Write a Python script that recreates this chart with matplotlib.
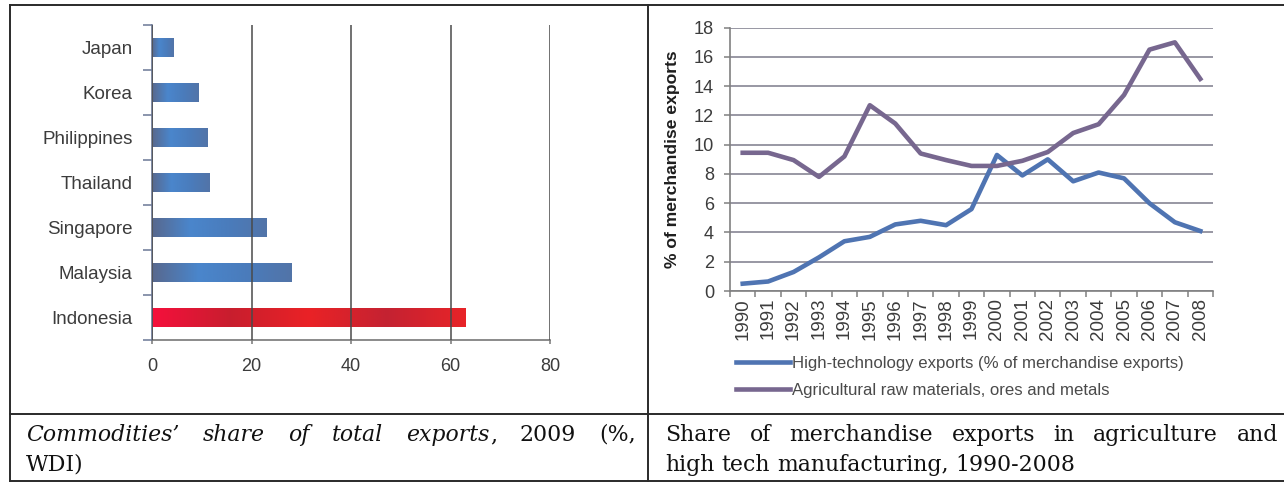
import matplotlib
matplotlib.use("Agg")
import matplotlib.pyplot as plt
import numpy as np
from matplotlib import font_manager as fm
from matplotlib.lines import Line2D
from matplotlib.colors import LinearSegmentedColormap

# ---------------- data ----------------
countries = ["Japan", "Korea", "Philippines", "Thailand", "Singapore", "Malaysia", "Indonesia"]
commodity_share = [4.3, 9.3, 11.1, 11.6, 23.1, 28.0, 63.0]
bar_xticks = [0, 20, 40, 60, 80]

years = ["1990", "1991", "1992", "1993", "1994", "1995", "1996", "1997", "1998", "1999",
         "2000", "2001", "2002", "2003", "2004", "2005", "2006", "2007", "2008"]
hightech = [0.5, 0.65, 1.3, 2.3, 3.4, 3.7, 4.55, 4.8, 4.5, 5.6,
            9.3, 7.9, 9.0, 7.5, 8.1, 7.7, 6.0, 4.7, 4.1]
agri = [9.45, 9.45, 8.95, 7.8, 9.2, 12.7, 11.45, 9.4, 8.95, 8.55,
        8.55, 8.9, 9.5, 10.8, 11.4, 13.4, 16.5, 17.0, 14.5]
line_yticks = [0, 2, 4, 6, 8, 10, 12, 14, 16, 18]
legend_labels = ["High-technology exports (% of merchandise exports)",
                 "Agricultural raw materials, ores and metals"]
ylabel_right = "% of merchandise exports"

caption_left_1 = [[("Commodities\u2019", "italic")], [("share", "italic")], [("of", "italic")],
                  [("total", "italic")], [("exports", "italic"), (",", "normal")],
                  [("2009", "normal")], [("(%,", "normal")]]
caption_left_2 = "WDI)"
caption_right_1 = "Share of merchandise exports in agriculture and"
caption_right_2 = "high tech manufacturing, 1990-2008"

# ---------------- fonts ----------------
names = {f.name for f in fm.fontManager.ttflist}
NARROW = "Liberation Sans Narrow" in names
SANS = "Liberation Sans Narrow" if NARROW else "Liberation Sans"
K = 1.0 if NARROW else 0.9
SERIF = "DejaVu Serif"

W, H = 1284, 484
fig = plt.figure(figsize=(W / 100, H / 100), dpi=100)
fig.patch.set_facecolor("white")


def fx(px):
    return px / W


def fy(py):
    return 1 - py / H


TXT = "#3c3c3c"

# ---------------- left bar chart ----------------
ax1 = fig.add_axes([fx(152), fy(340), (550 - 152) / W, (340 - 25) / H])
ypos = np.arange(len(countries))
bars = ax1.barh(ypos, commodity_share, height=0.42, color="none", zorder=1)
blue_cmap = LinearSegmentedColormap.from_list("b", ["#58688e", "#4a86cc", "#4a7cbc", "#5274a8"])
red_cmap = LinearSegmentedColormap.from_list("r", ["#f5103c", "#c81e2e", "#ea2226", "#c42232", "#e82428"])
grad = np.linspace(0, 1, 256).reshape(1, -1)
for bar, name in zip(bars, countries):
    x0, y0 = bar.get_x(), bar.get_y()
    w, h = bar.get_width(), bar.get_height()
    cm = red_cmap if name == "Indonesia" else blue_cmap
    ax1.imshow(grad, extent=(x0, x0 + w, y0 + h, y0), cmap=cm, aspect="auto",
               zorder=1.5, interpolation="bicubic")
ax1.set_xlim(0, 80)
ax1.set_ylim(len(countries) - 0.5, -0.5)
ax1.set_xticks(bar_xticks)
ax1.set_xticklabels([str(v) for v in bar_xticks], family=SANS, fontsize=14.5 * K, color=TXT)
ax1.set_yticks(ypos)
ax1.set_yticklabels(countries, family=SANS, fontsize=15 * K, color=TXT)
ax1.set_yticks(np.arange(-0.5, len(countries), 1.0), minor=True)
ax1.tick_params(axis="y", which="major", length=0, pad=14)
ax1.tick_params(axis="y", which="minor", length=6.5, width=1.1, color="#6b7896")
ax1.tick_params(axis="x", which="major", length=3, width=1.1, color="#777777", pad=10)
ax1.grid(axis="x", color="#4a4a4a", linewidth=1.1, zorder=2.5)
ax1.set_axisbelow(False)
for s in ["top", "right"]:
    ax1.spines[s].set_visible(False)
ax1.spines["left"].set_color("#6b7896")
ax1.spines["left"].set_linewidth(1.2)
ax1.spines["bottom"].set_color("#777777")
ax1.spines["bottom"].set_linewidth(1.2)
ax1.patch.set_alpha(0)

# ---------------- right line chart ----------------
ax2 = fig.add_axes([fx(730), fy(291), (1213 - 730) / W, (291 - 27.7) / H])
xs = np.arange(len(years))
l1, = ax2.plot(xs, hightech, color="#4f74b2", lw=3.3, solid_joinstyle="round", zorder=3)
l2, = ax2.plot(xs, agri, color="#77678f", lw=3.3, solid_joinstyle="round", zorder=3)
ax2.set_xlim(-0.5, len(years) - 0.5)
ax2.set_ylim(0, 18)
ax2.set_yticks(line_yticks)
ax2.set_yticklabels([str(v) for v in line_yticks], family=SANS, fontsize=14.5 * K, color=TXT)
ax2.set_xticks(xs)
ax2.set_xticklabels(years, rotation=90, family=SANS, fontsize=15 * K, color=TXT,
                    va="top", ha="center")
ax2.set_xticks(np.arange(-0.5, len(years), 1.0), minor=True)
ax2.tick_params(axis="x", which="major", length=0, pad=5)
ax2.tick_params(axis="x", which="minor", length=4.5, width=1.1, color="#808080")
ax2.tick_params(axis="y", which="major", length=4.5, width=1.1, color="#808080", pad=7)
ax2.grid(axis="y", color="#7c7a8a", linewidth=1.1, zorder=1)
for s in ["top", "right"]:
    ax2.spines[s].set_visible(False)
for s in ["left", "bottom"]:
    ax2.spines[s].set_color("#808080")
    ax2.spines[s].set_linewidth(1.2)
ax2.set_ylabel(ylabel_right, family="Liberation Sans", fontweight="bold", fontsize=12.6,
               color="#1e1e1e")
ax2.yaxis.set_label_coords((680 - 730) / 483, 0.5)
ax2.patch.set_alpha(0)

LEGFS = 13.4 * K
leg = fig.legend([l1, l2], legend_labels, loc="upper left",
                 bbox_to_anchor=(fx(736), fy(356)), frameon=False,
                 prop={"family": SANS, "size": LEGFS}, handlelength=3.2,
                 handletextpad=0.15, labelspacing=0.72, borderpad=0, borderaxespad=0)
for t in leg.get_texts():
    t.set_color("#4a4a4a")

# ---------------- table lines ----------------
LC = "#2a2a2a"
for (xa, ya, xb, yb) in [(10, 5, 1284, 5), (10, 5, 10, 481), (648, 5, 648, 481),
                         (10, 414, 1284, 414), (10, 481, 1284, 481)]:
    fig.add_artist(Line2D([fx(xa), fx(xb)], [fy(ya), fy(yb)], color=LC, lw=1.4,
                          transform=fig.transFigure))

# ---------------- captions ----------------
renderer = fig.canvas.get_renderer()
CAP = 15.8


def seg_width(txt, style):
    t = fig.text(0, 0, txt, family=SERIF, style=style, fontsize=CAP)
    w = t.get_window_extent(renderer).width
    t.remove()
    return w


def place_line(words, x0, x1, ybase, justify=True):
    widths = [[seg_width(s, st) for s, st in word] for word in words]
    total = sum(sum(w) for w in widths)
    gap = (x1 - x0 - total) / (len(words) - 1) if justify and len(words) > 1 else seg_width(" ", "normal")
    x = x0
    for word, ws in zip(words, widths):
        for (s, st), w in zip(word, ws):
            fig.text(fx(x), fy(ybase), s, family=SERIF, style=st, fontsize=CAP,
                     color="#111111", ha="left", va="baseline")
            x += w
        x += gap


place_line(caption_left_1, 26, 636, 441)
place_line([[(caption_left_2, "normal")]], 26, 636, 471, justify=False)
place_line([[(w, "normal")] for w in caption_right_1.split()], 665, 1278, 441)
place_line([[(w, "normal")] for w in caption_right_2.split()], 665, 1278, 471, justify=False)

fig.savefig("out.png", dpi=100, facecolor="white")
